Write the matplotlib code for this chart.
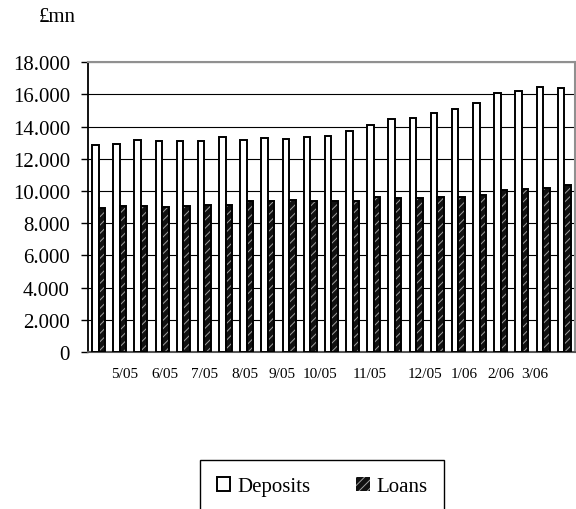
import numpy as np
from matplotlib import pyplot as plt
from matplotlib.patches import Patch
from matplotlib.ticker import FuncFormatter

plt.rcParams['font.family'] = ['Liberation Serif', 'DejaVu Serif']
plt.rcParams['hatch.linewidth'] = 0.7

# Deposits and loans, £mn
deposits = [12885, 12947, 13195, 13112, 13112, 13092, 13340, 13154, 13299, 13237,
            13361, 13423, 13754, 14106, 14478, 14560, 14850, 15077, 15450, 16091,
            16215, 16484, 16422]
loans = [8935, 9100, 9059, 8997, 9080, 9142, 9162, 9390, 9390, 9431,
         9369, 9410, 9369, 9638, 9597, 9576, 9638, 9659, 9741, 10052,
         10114, 10217, 10383]
month_labels = ['5/05', '6/05', '7/05', '8/05', '9/05', '10/05',
                '11/05', '12/05', '1/06', '2/06', '3/06']
# where the labels sit, in bar-group units
label_pos = [1.25, 3.13, 5.02, 6.9, 8.65, 10.44, 12.8, 15.4, 17.28, 19.0, 20.6]

fig = plt.figure(figsize=(5.76, 5.10), dpi=100)
ax = fig.add_axes([0.1528, 0.3078, 0.8452, 0.5681])

x = np.arange(len(deposits))
w = 0.31
ax.bar(x - w / 2, deposits, w, facecolor='white', edgecolor='black', linewidth=1.4, zorder=3)
ax.bar(x + w / 2, loans, w, facecolor='#111111', edgecolor='#a0a0a0', hatch='////',
       linewidth=0, zorder=3)
ax.bar(x + w / 2, loans, w, fill=False, edgecolor='black', linewidth=1.4, zorder=4)

ax.set_xlim(-0.5, len(deposits) - 0.5)
ax.set_ylim(0, 18000)
ax.set_yticks(np.arange(0, 18001, 2000))
ax.yaxis.set_major_formatter(FuncFormatter(lambda v, p: f'{int(v):,}'.replace(',', '.')))
ax.tick_params(axis='y', labelsize=15, length=5, width=1, direction='out', pad=8)
ax.set_xticks(label_pos)
ax.set_xticklabels(month_labels)
ax.tick_params(axis='x', labelsize=11, length=0, pad=11)

ax.grid(axis='y', color='black', linewidth=0.8, zorder=0)
ax.set_axisbelow(True)
for s in ['top', 'right']:
    ax.spines[s].set_color('#909090')
    ax.spines[s].set_linewidth(1.5)
ax.spines['left'].set_linewidth(1.3)
ax.spines['bottom'].set_color('#555555')
ax.spines['bottom'].set_linewidth(1.5)

fig.text(57 / 576, 1 - 18 / 510, '£mn', fontsize=15, ha='center', va='center')

h_dep = Patch(facecolor='white', edgecolor='black', linewidth=1.4)
h_loan = Patch(facecolor='#111111', edgecolor='#a0a0a0', hatch='////', linewidth=0)
leg = fig.legend([h_dep, h_loan], ['Deposits', 'Loans'], ncol=2, loc='upper left',
                 bbox_to_anchor=(200 / 576, 1 - 461 / 510), borderaxespad=0,
                 fontsize=15, handlelength=0.65, handleheight=0.65, handletextpad=0.33,
                 columnspacing=2.2, borderpad=0.8, fancybox=False, framealpha=1)
leg.get_frame().set_edgecolor('black')
leg.get_frame().set_linewidth(1.0)

plt.savefig('out.png', dpi=100)
